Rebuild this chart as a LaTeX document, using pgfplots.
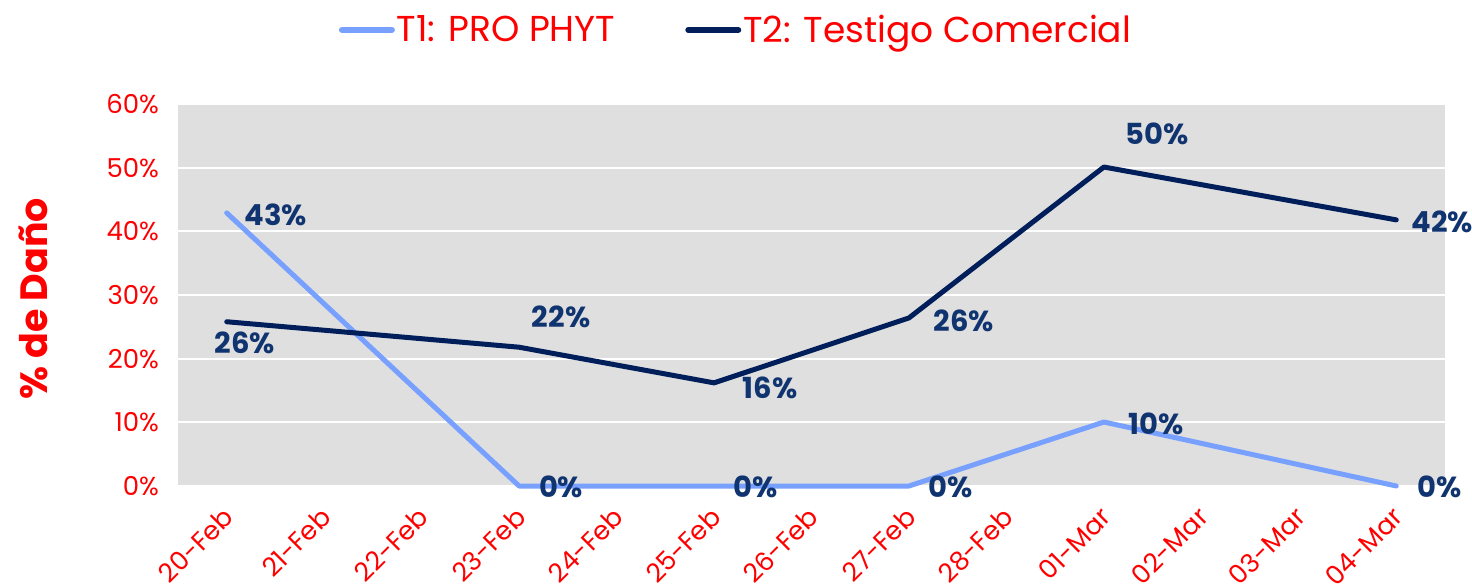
\documentclass[border=0pt]{standalone}
\usepackage{pgfplots}
\pgfplotsset{compat=1.18}
\usepackage{pgfplotstable}
\usepackage{fontspec}
\setmainfont{Poppins}
\definecolor{lightb}{RGB}{120,160,255}
\definecolor{darkb}{RGB}{0,30,90}
\definecolor{labb}{RGB}{16,52,112}
\definecolor{bg}{RGB}{223,223,223}
\definecolor{myred}{RGB}{255,0,0}

% x = category index (0 = 20-Feb ... 12 = 04-Mar), y = % damage, dx/dy = label offset (pt)
\pgfplotstableread{
x  y     dx    dy
0  42.9  24.5  -1
3  0     21    -0.5
5  0     21    -0.5
7  0     21    -0.5
9  10.05 26    -1
12 0     21.5  -0.5
}\tone
\pgfplotstableread{
x  y     dx    dy
0  25.8  9     -10.5
3  21.8  21    15
5  16.2  28    -2.5
7  26.4  27.5  -1.5
9  50.1  26.5  16.5
12 41.8  23    -1
}\ttwo

\begin{document}
\begin{tikzpicture}
\useasboundingbox (-89pt,-49pt) rectangle (647pt,243pt);
\begin{axis}[
  at={(0,0)}, anchor=south west,
  scale only axis,
  width=633.5pt, height=191pt,
  xmin=-0.5, xmax=12.5,
  ymin=0, ymax=60,
  xtick={0,...,12},
  xticklabels={20-Feb,21-Feb,22-Feb,23-Feb,24-Feb,25-Feb,26-Feb,27-Feb,28-Feb,01-Mar,02-Mar,03-Mar,04-Mar},
  ytick={0,10,...,60},
  yticklabel={\pgfmathprintnumber[assume math mode=true]{\tick}\%},
  axis background/.style={fill=bg},
  axis line style={draw=none},
  major tick length=0pt,
  ymajorgrids,
  grid style={white, line width=1pt},
  xticklabel style={xshift=-2.5pt, yshift=-9.5pt, rotate=45, anchor=north east, inner sep=0pt, font=\fontsize{13}{15}\selectfont, text=myred},
  yticklabel style={font=\fontsize{13}{15}\selectfont, text=myred, xshift=-6pt},
  ylabel={\bfseries \% de Daño},
  every axis y label/.style={at={(axis description cs:-0.1144,0.49)}, rotate=90, anchor=center, font=\fontsize{19}{22}\selectfont, text=myred},
  legend columns=2,
  legend style={at={(axis description cs:0.4404,1.194)}, anchor=center, draw=none, fill=none,
    font=\fontsize{18}{21}\selectfont, text=myred,
    /tikz/every even column/.append style={column sep=34pt},
    inner sep=0pt, nodes={inner sep=1pt}},
  legend image code/.code={\draw[#1, line width=3pt, line cap=round] (0pt,0pt) -- (25pt,0pt);},
  nodes near coords={\pgfmathprintnumber[fixed,precision=0,assume math mode=true]{\pgfplotspointmeta}\%},
  point meta=y,
  visualization depends on={\thisrow{dx} \as \dx},
  visualization depends on={\thisrow{dy} \as \dy},
  nodes near coords style={anchor=center, xshift=\dx pt, yshift=\dy pt, font=\fontsize{14.5}{17}\selectfont\bfseries, text=labb},
  clip=false,
]
\addplot[lightb, line width=2.5pt, line cap=round, line join=round] table[x=x,y=y] {\tone};
\addlegendentry{T1: PRO PHYT}
\addplot[darkb, line width=2.5pt, line cap=round, line join=round] table[x=x,y=y] {\ttwo};
\addlegendentry{T2: Testigo Comercial}
\end{axis}
\end{tikzpicture}
\end{document}
